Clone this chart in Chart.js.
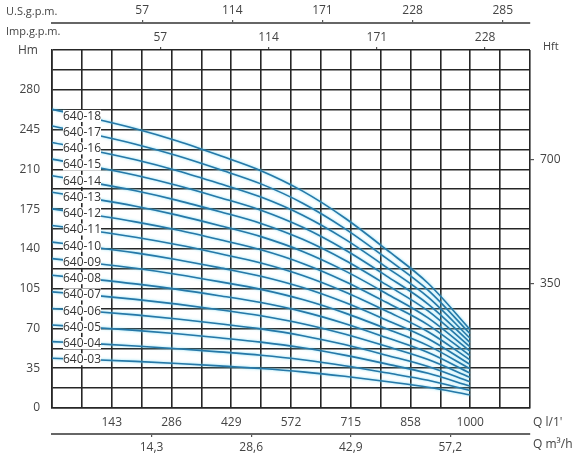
<!DOCTYPE html>
<html>
<head>
<meta charset="utf-8">
<script src="https://cdn.jsdelivr.net/npm/chart.js@4.4.1/dist/chart.umd.min.js"></script>
<style>
  html, body { margin: 0; padding: 0; background: #fff; }
  #wrap { width: 580px; height: 462px; }
</style>
</head>
<body>
<div id="wrap"><canvas id="pumpChart" width="580" height="462"></canvas></div>
<script>
const flowLpm = [0, 100, 200, 300, 400, 500, 600, 700, 800, 900, 1000];

// pump heads in metres, one array per model
const h03 = [43.8, 42.5, 41.0, 39.2, 37.1, 34.8, 31.8, 27.9, 23.3, 18.3, 11.6];
const h04 = [58.4, 56.6, 54.6, 52.2, 49.4, 46.4, 42.4, 37.2, 31.0, 24.4, 15.4];
const h05 = [73.0, 70.8, 68.3, 65.3, 61.8, 58.0, 53.0, 46.5, 38.8, 30.5, 19.3];
const h06 = [87.6, 84.9, 81.9, 78.3, 74.1, 69.6, 63.6, 55.8, 46.5, 36.6, 23.1];
const h07 = [102.2, 99.1, 95.6, 91.4, 86.5, 81.2, 74.2, 65.1, 54.3, 42.7, 27.0];
const h08 = [116.8, 113.2, 109.2, 104.4, 98.8, 92.8, 84.8, 74.4, 62.0, 48.8, 30.8];
const h09 = [131.4, 127.4, 122.9, 117.5, 111.2, 104.4, 95.4, 83.7, 69.8, 54.9, 34.7];
const h10 = [146.0, 141.5, 136.5, 130.5, 123.5, 116.0, 106.0, 93.0, 77.5, 61.0, 38.5];
const h11 = [160.6, 155.7, 150.2, 143.6, 135.9, 127.6, 116.6, 102.3, 85.3, 67.1, 42.4];
const h12 = [175.2, 169.8, 163.8, 156.6, 148.2, 139.2, 127.2, 111.6, 93.0, 73.2, 46.2];
const h13 = [189.8, 184.0, 177.5, 169.7, 160.6, 150.8, 137.8, 120.9, 100.8, 79.3, 50.1];
const h14 = [204.4, 198.1, 191.1, 182.7, 172.9, 162.4, 148.4, 130.2, 108.5, 85.4, 53.9];
const h15 = [219.0, 212.3, 204.8, 195.8, 185.3, 174.0, 159.0, 139.5, 116.3, 91.5, 57.8];
const h16 = [233.6, 226.4, 218.4, 208.8, 197.6, 185.6, 169.6, 148.8, 124.0, 97.6, 61.6];
const h17 = [248.2, 240.6, 232.1, 221.9, 210.0, 197.2, 180.2, 158.1, 131.8, 103.7, 65.5];
const h18 = [262.8, 254.7, 245.7, 234.9, 222.3, 208.8, 190.8, 167.4, 139.5, 109.8, 69.3];

const curveNames = ['640-03', '640-04', '640-05', '640-06', '640-07', '640-08', '640-09', '640-10',
                    '640-11', '640-12', '640-13', '640-14', '640-15', '640-16', '640-17', '640-18'];
const curveHeads = [h03, h04, h05, h06, h07, h08, h09, h10, h11, h12, h13, h14, h15, h16, h17, h18];

// tick labels
const qTickValues = [143, 286, 429, 572, 715, 858, 1001];
const qTickLabels = ['143', '286', '429', '572', '715', '858', '1000'];
const m3hTicks = [14.3, 28.6, 42.9, 57.2];
const usGpmTicks = [57, 114, 171, 228, 285];
const impGpmTicks = [57, 114, 171, 228];
const hmTicks = [0, 35, 70, 105, 140, 175, 210, 245, 280];
const hftTicks = [350, 700];

// grid spacing
const qMax = 1144, qStep = 71.5;
const hMax = 315, hStep = 17.5;

const FONT = '"Open Sans", "DejaVu Sans", sans-serif';
const GRID = '#262626';
const TEXT = '#444';

function steps(max, step) {
    const out = [];
    for (let v = 0; v <= max + 1e-6; v += step) out.push(Math.round(v * 100) / 100);
    return out;
}

function headAt(points, q) {
    for (let i = 1; i < points.length; i++) {
        if (q <= points[i].x) {
            const a = points[i - 1], b = points[i];
            return a.y + (b.y - a.y) * (q - a.x) / (b.x - a.x);
        }
    }
    return points[points.length - 1].y;
}

const datasets = curveNames.map((name, k) => ({
    label: name,
    data: curveHeads[k].map((h, i) => ({ x: flowLpm[i], y: h })),
    borderColor: '#2678a8',
    borderWidth: 1.6,
    pointRadius: 0,
    cubicInterpolationMode: 'monotone',
    fill: false
}));

// thin light cyan halo around the curves
const glowPlugin = {
    id: 'glow',
    beforeDatasetsDraw(chart) {
        const c = chart.ctx;
        c.save();
        c.shadowColor = 'rgba(110, 215, 242, 0.9)';
        c.shadowBlur = 2.5;
    },
    afterDatasetsDraw(chart) {
        chart.ctx.restore();
    }
};

// model names sitting on the start of each curve
const curveLabelPlugin = {
    id: 'curveLabels',
    afterDatasetsDraw(chart) {
        const { ctx, scales: { x, y } } = chart;
        const cx = x.left + 30;
        const q = x.getValueForPixel(cx);
        ctx.save();
        ctx.font = '12px ' + FONT;
        ctx.textAlign = 'center';
        ctx.textBaseline = 'middle';
        chart.data.datasets.forEach(ds => {
            const py = y.getPixelForValue(headAt(ds.data, q));
            ctx.fillStyle = '#fff';
            ctx.fillRect(cx - 19, py - 6, 38, 12);
            ctx.fillStyle = '#333';
            ctx.fillText(ds.label, cx, py + 0.5);
        });
        ctx.restore();
    }
};

// unit captions around the axes
const captionPlugin = {
    id: 'captions',
    afterDraw(chart) {
        const { ctx, chartArea: a } = chart;
        ctx.save();
        ctx.fillStyle = TEXT;
        ctx.textBaseline = 'middle';
        ctx.textAlign = 'left';
        ctx.font = '11px ' + FONT;
        ctx.fillText('U.S.g.p.m.', 6, 12);
        ctx.fillText('Imp.g.p.m.', 6, 32);
        ctx.fillText('Hft', a.right + 13, a.top - 3);
        ctx.font = '12px ' + FONT;
        ctx.textAlign = 'center';
        ctx.fillText('Hm', 28, a.top + 1);
        ctx.textAlign = 'left';
        ctx.fillText("Q l/1'", a.right + 3, a.bottom + 15);
        ctx.fillText('Q m\u00B3/h', a.right + 3, a.bottom + 37);
        ctx.restore();
    }
};

const tickFont = { family: FONT, size: 12 };

new Chart(document.getElementById('pumpChart').getContext('2d'), {
    type: 'line',
    data: { datasets },
    options: {
        responsive: false,
        animation: false,
        layout: { padding: 0 },
        plugins: { legend: { display: false }, tooltip: { enabled: false } },
        scales: {
            x: {
                type: 'linear', position: 'bottom', weight: 0,
                min: 0, max: qMax,
                afterBuildTicks: s => { s.ticks = steps(qMax, qStep).map(v => ({ value: v })); },
                afterFit: s => { s.height = 26; },
                ticks: {
                    autoSkip: false, maxRotation: 0, padding: 7, color: TEXT, font: tickFont,
                    callback: v => {
                        const i = qTickValues.findIndex(t => Math.abs(t - v) < 0.6);
                        return i >= 0 ? qTickLabels[i] : '';
                    }
                },
                grid: { color: GRID, lineWidth: 1.6, drawTicks: false },
                border: { color: GRID, width: 1.6 }
            },
            xm3: {
                type: 'linear', position: 'bottom', weight: 1,
                min: 0, max: qMax * 0.06,
                afterBuildTicks: s => { s.ticks = m3hTicks.map(v => ({ value: v })); },
                afterFit: s => { s.height = 28; },
                ticks: {
                    autoSkip: false, maxRotation: 0, padding: 3, color: TEXT, font: tickFont,
                    callback: v => v.toFixed(1).replace('.', ',')
                },
                grid: { drawOnChartArea: false, color: '#555', tickLength: 3, lineWidth: 1.2 },
                border: { color: '#666', width: 2 }
            },
            ximp: {
                type: 'linear', position: 'top', weight: 0,
                min: 0, max: qMax / 4.546,
                afterBuildTicks: s => { s.ticks = impGpmTicks.map(v => ({ value: v })); },
                afterFit: s => { s.height = 27; },
                ticks: { autoSkip: false, maxRotation: 0, padding: 2, color: TEXT, font: tickFont },
                grid: { drawOnChartArea: false, color: '#555', tickLength: 3, lineWidth: 1.2 },
                border: { display: false }
            },
            xus: {
                type: 'linear', position: 'top', weight: 1,
                min: 0, max: qMax / 3.785,
                afterBuildTicks: s => { s.ticks = usGpmTicks.map(v => ({ value: v })); },
                afterFit: s => { s.height = 23; },
                ticks: { autoSkip: false, maxRotation: 0, padding: 2, color: TEXT, font: tickFont },
                grid: { drawOnChartArea: false, color: '#555', tickLength: 3, lineWidth: 1.2 },
                border: { color: '#666', width: 2 }
            },
            y: {
                type: 'linear', position: 'left',
                min: 0, max: hMax,
                afterBuildTicks: s => { s.ticks = steps(hMax, hStep).map(v => ({ value: v })); },
                afterFit: s => { s.width = 52; },
                ticks: {
                    autoSkip: false, padding: 12, color: TEXT, font: tickFont,
                    callback: v => hmTicks.includes(v) ? String(v) : ''
                },
                grid: { color: GRID, lineWidth: 1.6, drawTicks: false },
                border: { color: GRID, width: 1.6 }
            },
            yft: {
                type: 'linear', position: 'right',
                min: 0, max: 1010,
                afterBuildTicks: s => { s.ticks = hftTicks.map(v => ({ value: v })); },
                afterFit: s => { s.width = 50; },
                ticks: { autoSkip: false, padding: 6, color: TEXT, font: tickFont },
                grid: { drawOnChartArea: false, color: '#555', tickLength: 4, lineWidth: 1.2 },
                border: { display: false }
            }
        }
    },
    plugins: [glowPlugin, curveLabelPlugin, captionPlugin]
});
</script>
</body>
</html>
